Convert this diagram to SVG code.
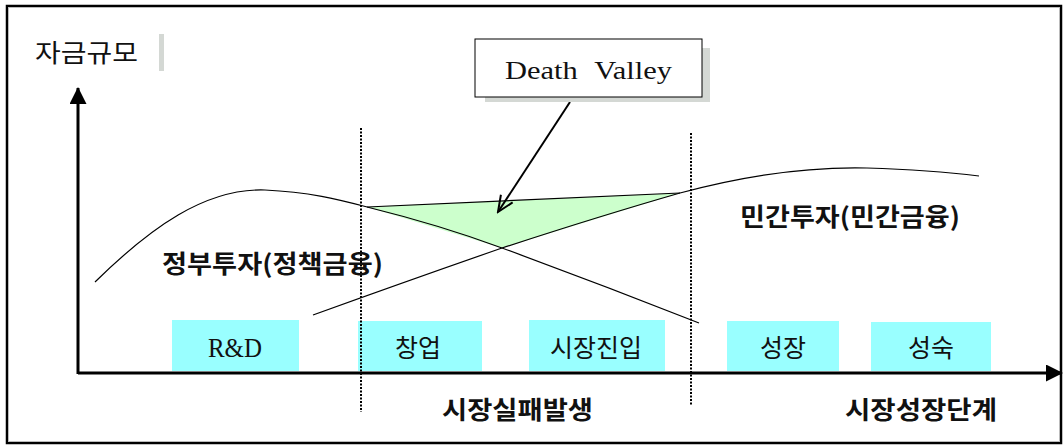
<svg xmlns="http://www.w3.org/2000/svg" width="1064" height="445" viewBox="0 0 1064 445">
<style>
.kr{font-family:"Noto Sans CJK KR","Noto Sans",sans-serif;fill:#111}
.lbl{font-size:25px;font-weight:bold}
.box{fill:#99ffff}
.bt{font-size:25px;text-anchor:middle}
.crv{fill:none;stroke:#000;stroke-width:1.2}
.dot{stroke:#000;stroke-width:2;stroke-dasharray:2 1.5}
</style>
<defs>
<marker id="ah" markerWidth="17" markerHeight="17" refX="16" refY="8.5" orient="auto" markerUnits="userSpaceOnUse" viewBox="0 0 17 17">
<path d="M0,0 L17,8.5 L0,17 Z" fill="#000"/>
</marker>
<marker id="open" markerWidth="20" markerHeight="20" refX="18" refY="10" orient="auto" markerUnits="userSpaceOnUse" viewBox="0 0 20 20">
<path d="M2,3 L18,10 L2,17" fill="none" stroke="#000" stroke-width="2"/>
</marker>
</defs>
<rect x="0" y="0" width="1064" height="445" fill="#fff"/>
<rect x="7" y="6" width="1054" height="437" fill="none" stroke="#000" stroke-width="2.5"/>
<rect x="8.5" y="7.5" width="1051" height="434" fill="none" stroke="#bbb" stroke-width="1"/>

<g id="triangle">
<polygon points="367,207 680,193 502,248" fill="#ccffcc"/>
</g>

<g id="boxes">
<g id="rnd"><rect class="box" x="172" y="320" width="127" height="51"/><text x="235" y="357" font-family="Liberation Serif,serif" font-size="27" text-anchor="middle" fill="#111" textLength="54" lengthAdjust="spacingAndGlyphs">R&amp;D</text></g>
<g id="startup"><rect class="box" x="358" y="321" width="124" height="50"/><text class="kr bt" x="418" y="357">창업</text></g>
<g id="entry"><rect class="box" x="529" y="320" width="136" height="51"/><text class="kr bt" x="596" y="357">시장진입</text></g>
<g id="growth"><rect class="box" x="727" y="321" width="112" height="50"/><text class="kr bt" x="783" y="357">성장</text></g>
<g id="mature"><rect class="box" x="871" y="322" width="120" height="49"/><text class="kr bt" x="931" y="357">성숙</text></g>
</g>

<g id="connectors">
<line class="dot" x1="361" y1="128" x2="361" y2="412"/>
<line class="dot" x1="691" y1="133" x2="691" y2="405"/>
<path class="crv" d="M95,282 C150,228 205,188 265,190 C310,192 340,200 367,207 Q440,225 502,248 Q600,284 699,323"/>
<path class="crv" d="M313,315 Q410,280 502,248 Q600,216 680,193 Q780,166 867,168 Q930,170 979,176"/>
<line x1="367" y1="207" x2="680" y2="193" stroke="#000" stroke-width="1.2"/>
<line x1="78" y1="373" x2="1062" y2="373" stroke="#000" stroke-width="3" marker-end="url(#ah)"/>
<line x1="78" y1="374" x2="78" y2="88" stroke="#000" stroke-width="3" marker-end="url(#ah)"/>
<line x1="570" y1="102" x2="498" y2="212" stroke="#000" stroke-width="2" marker-end="url(#open)"/>
</g>

<g id="deathvalley">
<rect x="485" y="48" width="225" height="54" fill="#d4d8d4"/>
<rect x="475" y="39" width="227" height="58" fill="#fff" stroke="#000" stroke-width="1"/>
<text x="505" y="79" font-family="Liberation Serif,serif" font-size="26" fill="#111" word-spacing="8" textLength="167" lengthAdjust="spacingAndGlyphs">Death Valley</text>
</g>

<g id="labels">
<text class="kr" x="35" y="62" font-size="25" textLength="103" lengthAdjust="spacingAndGlyphs">자금규모</text>
<rect x="159" y="34" width="5" height="37" fill="#d4d8d4"/>
<text class="kr lbl" x="162" y="273" textLength="221" lengthAdjust="spacingAndGlyphs">정부투자(정책금융)</text>
<text class="kr lbl" x="740" y="226" textLength="220" lengthAdjust="spacingAndGlyphs">민간투자(민간금융)</text>
<text class="kr lbl" x="442" y="419" textLength="151" lengthAdjust="spacingAndGlyphs">시장실패발생</text>
<text class="kr lbl" x="845" y="419" textLength="152" lengthAdjust="spacingAndGlyphs">시장성장단계</text>
</g>
</svg>
